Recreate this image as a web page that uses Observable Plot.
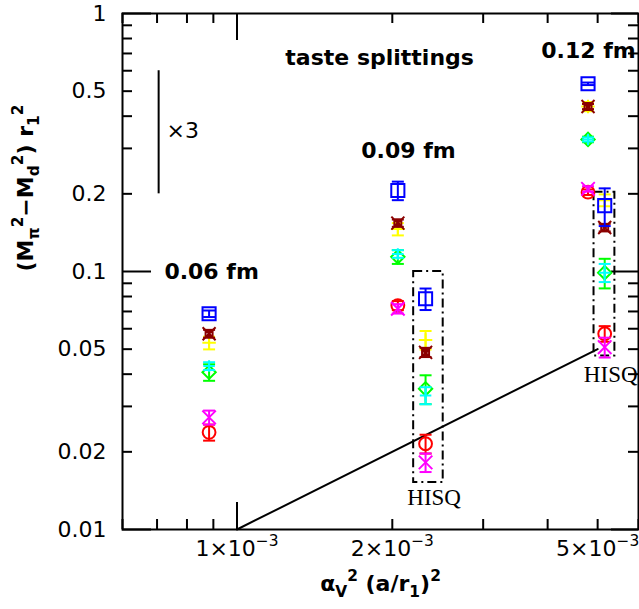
<!DOCTYPE html>
<html><head><meta charset="utf-8">
<script src="https://cdn.jsdelivr.net/npm/d3@7"></script>
<script src="https://cdn.jsdelivr.net/npm/@observablehq/plot@0.6"></script>
<style>body{margin:0;background:#fff;}</style>
</head><body><div id="chart"></div>
<script>
// ---- data ----
const groups = ["0.06 fm", "0.09 fm", "0.09 fm HISQ", "0.12 fm", "0.12 fm HISQ"];
const groupX = [8.83e-4, 2.05e-3, 2.32e-3, 4.79e-3, 5.16e-3];

const yellowVal = [0.0529, 0.146, 0.0543, 0.436, 0.189];
const yellowErr = [0.003, 0.008, 0.0045, 0.018, 0.010];
const maroonVal = [0.0574, 0.154, 0.0486, 0.436, 0.148];
const maroonErr = [0.002, 0.005, 0.002, 0.010, 0.005];
const blueVal = [0.0686, 0.206, 0.0784, 0.534, 0.180];
const blueErr = [0.002, 0.017, 0.0075, 0.006, 0.030];
const greenVal = [0.0407, 0.114, 0.0351, 0.325, 0.099];
const greenErr = [0.0030, 0.007, 0.0045, 0.008, 0.013];
const cyanVal = [0.0430, 0.117, 0.0331, 0.325, 0.099];
const cyanErr = [0.0015, 0.004, 0.0025, 0.006, 0.008];
const redVal = [0.0238, 0.0738, 0.0215, 0.203, 0.0574];
const redErr = [0.0017, 0.003, 0.0018, 0.005, 0.0040];
const magentaVal = [0.0272, 0.0717, 0.0182, 0.209, 0.0509];
const magentaErr = [0.0017, 0.003, 0.0015, 0.005, 0.0045];

// reference line y = 10 x
const lineX = [0.001, 0.005];
const lineY = [0.01, 0.05];

// HISQ boxes
const boxX1 = [2.2e-3, 4.92e-3];
const boxX2 = [2.51e-3, 5.40e-3];
const boxY1 = [0.0152, 0.047];
const boxY2 = [0.1, 0.203];

// "x3" scale bar
const barX = [7.05e-4];
const barY1 = [0.2];
const barY2 = [0.6];

// annotations
const noteText = ["taste splittings", "0.12 fm", "0.09 fm", "0.06 fm"];
const noteX = [1.89e-3, 4.80e-3, 2.15e-3, 8.93e-4];
const noteY = [0.67, 0.719, 0.294, 0.1];
const scaleText = ["×3"];
const scaleX = [7.3e-4];
const scaleY = [0.352];
const hisqText = ["HISQ", "HISQ"];
const hisqX = [2.41e-3, 5.30e-3];
const hisqY = [0.0133, 0.040];

// ticks
const xMajor = [1e-3];
const xMinor = [6e-4, 7e-4, 8e-4, 9e-4, 2e-3, 3e-3, 4e-3, 5e-3, 6e-3];
const xLabelValues = [1e-3, 2e-3, 5e-3];
const xLabelTexts = ["1×10^{−3}", "2×10^{−3}", "5×10^{−3}"];
const yMajor = [0.01, 0.1, 1];
const yMinor = [0.02, 0.03, 0.04, 0.05, 0.06, 0.07, 0.08, 0.09, 0.2, 0.3, 0.4, 0.5, 0.6, 0.7, 0.8, 0.9];
const yLabelValues = [1, 0.5, 0.2, 0.1, 0.05, 0.02, 0.01];
const yLabelTexts = ["1", "0.5", "0.2", "0.1", "0.05", "0.02", "0.01"];
const xTitle = "α_{V}^{2} (a/r_{1})^{2}";
const yTitle = "(M_{π}^{2}−M_{d}^{2}) r_{1}^{2}";

// ---- layout ----
const W = 639, Hgt = 609, mL = 122, mR = 1, mT = 13, mB = 80;
const FW = W - mL - mR, FH = Hgt - mT - mB;

const rows = (vals, errs) => vals.map((v, i) => ({x: groupX[i], y: v, lo: v - errs[i], hi: v + errs[i]}));

const cap = {draw(ctx) { ctx.moveTo(-6, 0); ctx.lineTo(6, 0); }};
const burst = {draw(ctx) {
  const a = 6.5, b = 3.5;
  ctx.moveTo(-a, -a); ctx.lineTo(a, a); ctx.moveTo(-a, a); ctx.lineTo(a, -a);
  ctx.moveTo(-b, -b); ctx.lineTo(b, -b); ctx.lineTo(b, b); ctx.lineTo(-b, b); ctx.closePath();
  ctx.moveTo(-1.2, -b); ctx.lineTo(-1.2, b); ctx.moveTo(1.2, -b); ctx.lineTo(1.2, b);
}};

function series(vals, errs, color, symbol, r, sw = 2) {
  const d = rows(vals, errs);
  return [
    Plot.ruleX(d, {x: "x", y1: "lo", y2: "hi", stroke: color, strokeWidth: 2}),
    Plot.dot(d, {x: "x", y: "lo", symbol: cap, stroke: color, fill: "none", strokeWidth: 2}),
    Plot.dot(d, {x: "x", y: "hi", symbol: cap, stroke: color, fill: "none", strokeWidth: 2}),
    Plot.dot(d, {x: "x", y: "y", symbol, r, stroke: color, fill: "none", strokeWidth: sw})
  ];
}

const boxes = boxX1.map((v, i) => ({x1: v, x2: boxX2[i], y1: boxY1[i], y2: boxY2[i]}));

const chart = Plot.plot({
  width: W, height: Hgt,
  marginLeft: mL, marginRight: mR, marginTop: mT, marginBottom: mB,
  style: {fontFamily: "DejaVu Sans", fontSize: "22px", background: "#fff", color: "#000"},
  x: {type: "log", domain: [6e-4, 6e-3], axis: null},
  y: {type: "log", domain: [0.01, 1], axis: null},
  marks: [
    // ticks (inward)
    Plot.tickX(xMinor, {x: d => d, insetTop: FH - 10, stroke: "#000", strokeWidth: 2}),
    Plot.tickX(xMinor, {x: d => d, insetBottom: FH - 10, stroke: "#000", strokeWidth: 2}),
    Plot.tickX(xMajor, {x: d => d, insetTop: FH - 27, stroke: "#000", strokeWidth: 2}),
    Plot.tickX(xMajor, {x: d => d, insetBottom: FH - 27, stroke: "#000", strokeWidth: 2}),
    Plot.tickY(yMinor, {y: d => d, insetRight: FW - 10, stroke: "#000", strokeWidth: 2}),
    Plot.tickY(yMinor, {y: d => d, insetLeft: FW - 10, stroke: "#000", strokeWidth: 2}),
    Plot.tickY(yMajor, {y: d => d, insetRight: FW - 29, stroke: "#000", strokeWidth: 2}),
    Plot.tickY(yMajor, {y: d => d, insetLeft: FW - 27, stroke: "#000", strokeWidth: 2}),
    Plot.frame({stroke: "#000", strokeWidth: 2}),
    // tick labels
    Plot.text(xLabelValues, {x: d => d, frameAnchor: "bottom", dy: 26, text: (d, i) => xLabelTexts[i], fontSize: 22}),
    Plot.text(yLabelValues, {y: d => d, frameAnchor: "left", dx: -16, textAnchor: "end", text: (d, i) => yLabelTexts[i], fontSize: 22}),
    Plot.text([xTitle], {frameAnchor: "bottom", dy: 61, text: d => d, fontSize: 22, fontWeight: "bold"}),
    Plot.text([yTitle], {frameAnchor: "left", dx: -97, rotate: -90, text: d => d, fontSize: 22, fontWeight: "bold"}),
    // reference line and scale bar
    Plot.line(lineX.map((x, i) => ({x, y: lineY[i]})), {x: "x", y: "y", stroke: "#000", strokeWidth: 2}),
    Plot.ruleX(barX.map((x, i) => ({x, y1: barY1[i], y2: barY2[i]})), {x: "x", y1: "y1", y2: "y2", stroke: "#000", strokeWidth: 2}),
    // HISQ boxes
    Plot.rect(boxes, {x1: "x1", x2: "x2", y1: "y1", y2: "y2", fill: "none", stroke: "#000", strokeWidth: 2, strokeDasharray: "9,4,2,4"}),
    // data
    ...series(yellowVal, yellowErr, "#ffff00", "plus", 4.4),
    ...series(maroonVal, maroonErr, "#8b0000", burst, 6),
    ...series(blueVal, blueErr, "#0000ff", "square", 7.4),
    ...series(greenVal, greenErr, "#00ff00", "diamond2", 6),
    ...series(cyanVal, cyanErr, "#00ffff", "plus", 3.8),
    ...series(redVal, redErr, "#ff0000", "circle", 6.4),
    ...series(magentaVal, magentaErr, "#ff00ff", "times", 6.2),
    // annotations
    Plot.text(noteText, {x: (d, i) => noteX[i], y: (d, i) => noteY[i], text: d => d, fontSize: 22, fontWeight: "bold"}),
    Plot.text(scaleText, {x: (d, i) => scaleX[i], y: (d, i) => scaleY[i], text: d => d, fontSize: 22, textAnchor: "start"}),
    Plot.text(hisqText, {x: (d, i) => hisqX[i], y: (d, i) => hisqY[i], text: d => d, fontSize: 23, fontFamily: "Liberation Serif"})
  ]
});

// rich text: ^{..} superscript, _{..} subscript
function richify(svg) {
  svg.querySelectorAll("text").forEach(t => {
    const s = t.textContent;
    if (!/[\^_]\{/.test(s)) return;
    const parts = [];
    const re = /([\^_])\{([^}]*)\}|([^\^_]+)/g;
    let m;
    while ((m = re.exec(s))) {
      if (m[3] !== undefined) parts.push({t: m[3], k: 0});
      else parts.push({t: m[2], k: m[1] === "^" ? 1 : -1});
    }
    while (t.firstChild) t.removeChild(t.firstChild);
    let cur = 0;
    for (const p of parts) {
      const scale = p.k === 0 ? 1 : 0.7;
      const target = p.k === 1 ? -0.42 : p.k === -1 ? 0.3 : 0;
      const ts = document.createElementNS("http://www.w3.org/2000/svg", "tspan");
      if (scale !== 1) ts.setAttribute("font-size", "70%");
      const dy = (target - cur) / scale;
      if (dy !== 0) ts.setAttribute("dy", dy.toFixed(3) + "em");
      ts.textContent = p.t;
      t.appendChild(ts);
      cur = target;
    }
  });
}
richify(chart);
document.getElementById("chart").appendChild(chart);
</script>
</body></html>
